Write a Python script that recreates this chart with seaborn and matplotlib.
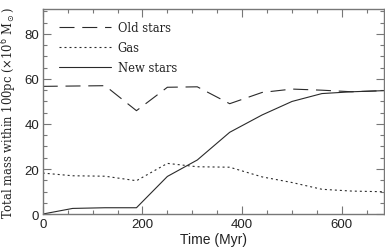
import matplotlib
matplotlib.use("Agg")
import matplotlib.pyplot as plt
import seaborn as sns
import pandas as pd
from matplotlib.ticker import MultipleLocator

# Data
t_old = [0, 125, 188, 250, 310, 375, 440, 500, 560, 620, 685]
old_stars = [56.7, 57.0, 45.9, 56.3, 56.5, 49.0, 54.0, 55.5, 55.0, 54.3, 54.8]

t_gas = [0, 60, 125, 188, 250, 310, 375, 440, 500, 560, 620, 685]
gas = [18.2, 17.0, 16.8, 14.8, 22.5, 21.0, 20.8, 16.5, 14.0, 11.0, 10.2, 9.9]

t_new = [0, 60, 125, 188, 250, 310, 375, 440, 500, 560, 620, 685]
new_stars = [0.0, 2.5, 2.8, 2.8, 16.7, 24.0, 36.3, 44.0, 50.0, 53.5, 54.3, 54.8]

labels = ["Old stars", "Gas", "New stars"]
xticks = [0, 200, 400, 600]
yticks = [0, 20, 40, 60, 80]

sns.set_theme(style="ticks")
plt.rcParams["font.family"] = ["Liberation Sans", "DejaVu Sans"]

fig = plt.figure(figsize=(3.85, 2.53), dpi=100)
ax = fig.add_axes([0.111, 0.150, 0.887, 0.810])

lc = "#2a2a2a"
lw = 0.8
sns.lineplot(x=t_old, y=old_stars, ax=ax, color=lc, lw=lw, label=labels[0])
sns.lineplot(x=t_gas, y=gas, ax=ax, color=lc, lw=lw, label=labels[1])
sns.lineplot(x=t_new, y=new_stars, ax=ax, color=lc, lw=lw, label=labels[2])
lines = ax.get_lines()
lines[0].set_dashes((13.5, 7))
lines[1].set_dashes((1.8, 2.7))

ax.set_xlim(0, 685)
ax.set_ylim(0, 91)
ax.set_xticks(xticks)
ax.set_yticks(yticks)
ax.xaxis.set_minor_locator(MultipleLocator(50))
ax.yaxis.set_minor_locator(MultipleLocator(5))

sc = "#777777"
for s in ax.spines.values():
    s.set_visible(True)
    s.set_color(sc)
    s.set_linewidth(1.0)
ax.tick_params(which="both", direction="in", top=True, right=True, color=sc,
               labelsize=9.5, labelcolor="#222222", width=0.8)
ax.tick_params(which="major", length=5.8, pad=2.5)
ax.tick_params(which="minor", length=2.9)

ax.set_xlabel("Time (Myr)", fontsize=10, color="#222222", labelpad=2)
ax.set_ylabel(r"Total mass within 100pc ($\times$10$^6$ M$_\odot$)", fontsize=8.3,
              family=["DejaVu Serif"], color="#222222", labelpad=4)

leg = ax.legend(loc="upper left", bbox_to_anchor=(0.035, 0.965), frameon=False,
                handlelength=4.5, handletextpad=0.55, labelspacing=0.62,
                borderaxespad=0, prop={"family": "DejaVu Serif", "size": 8.3})
for txt in leg.get_texts():
    txt.set_color("#222222")

fig.savefig("out.png", dpi=100)
